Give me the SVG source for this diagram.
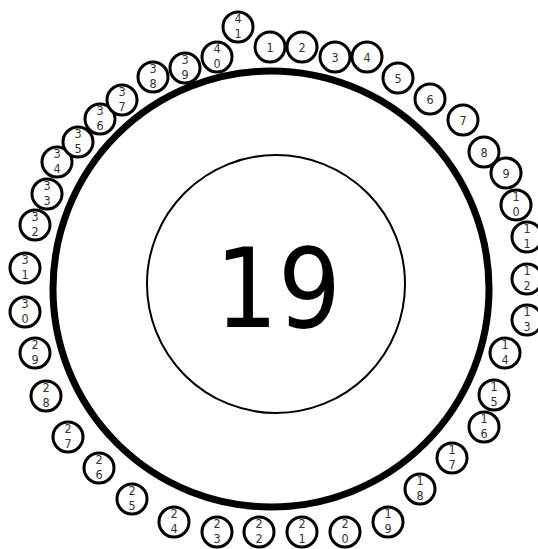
<svg xmlns="http://www.w3.org/2000/svg" width="538" height="549" viewBox="0 0 538 549">
<style>
.bg{fill:#fff}
.ring{fill:none;stroke:#000;stroke-width:7}
.inner{fill:#fff;stroke:#000;stroke-width:2}
.big{font-family:"DejaVu Sans Condensed","DejaVu Sans",sans-serif;font-size:110px;fill:#000;text-anchor:middle}
.n circle{fill:#fff;stroke:#000;stroke-width:3}
.n text{font-family:"DejaVu Sans Condensed","DejaVu Sans",sans-serif;font-size:12.5px;fill:#333;text-anchor:middle}
</style>
<rect class="bg" width="538" height="549"/>
<g id="outer-ring"><circle class="ring" cx="271" cy="289" r="218"/></g>
<g id="center"><circle class="inner" cx="276" cy="284" r="129"/><text class="big" x="278" y="327">19</text></g>
<g id="n1" class="n"><circle cx="270" cy="47" r="15"/><text x="270" y="51.5">1</text></g>
<g id="n2" class="n"><circle cx="302" cy="47" r="15"/><text x="302" y="51.5">2</text></g>
<g id="n3" class="n"><circle cx="335" cy="57" r="15"/><text x="335" y="61.5">3</text></g>
<g id="n4" class="n"><circle cx="367" cy="57" r="15"/><text x="367" y="61.5">4</text></g>
<g id="n5" class="n"><circle cx="398" cy="78" r="15"/><text x="398" y="82.5">5</text></g>
<g id="n6" class="n"><circle cx="430" cy="99" r="15"/><text x="430" y="103.5">6</text></g>
<g id="n7" class="n"><circle cx="463" cy="120" r="15"/><text x="463" y="124.5">7</text></g>
<g id="n8" class="n"><circle cx="484" cy="152" r="15"/><text x="484" y="156.5">8</text></g>
<g id="n9" class="n"><circle cx="506" cy="173" r="15"/><text x="506" y="177.5">9</text></g>
<g id="n10" class="n"><circle cx="516" cy="205" r="15"/><text x="516" y="201">1</text><text x="516" y="216">0</text></g>
<g id="n11" class="n"><circle cx="527" cy="237" r="15"/><text x="527" y="233">1</text><text x="527" y="248">1</text></g>
<g id="n12" class="n"><circle cx="527" cy="279" r="15"/><text x="527" y="275">1</text><text x="527" y="290">2</text></g>
<g id="n13" class="n"><circle cx="527" cy="320" r="15"/><text x="527" y="316">1</text><text x="527" y="331">3</text></g>
<g id="n14" class="n"><circle cx="505" cy="353" r="15"/><text x="505" y="349">1</text><text x="505" y="364">4</text></g>
<g id="n15" class="n"><circle cx="494" cy="395" r="15"/><text x="494" y="391">1</text><text x="494" y="406">5</text></g>
<g id="n16" class="n"><circle cx="484" cy="427" r="15"/><text x="484" y="423">1</text><text x="484" y="438">6</text></g>
<g id="n17" class="n"><circle cx="452" cy="458" r="15"/><text x="452" y="454">1</text><text x="452" y="469">7</text></g>
<g id="n18" class="n"><circle cx="420" cy="489" r="15"/><text x="420" y="485">1</text><text x="420" y="500">8</text></g>
<g id="n19" class="n"><circle cx="388" cy="522" r="15"/><text x="388" y="518">1</text><text x="388" y="533">9</text></g>
<g id="n20" class="n"><circle cx="345" cy="532" r="15"/><text x="345" y="528">2</text><text x="345" y="543">0</text></g>
<g id="n21" class="n"><circle cx="302" cy="532" r="15"/><text x="302" y="528">2</text><text x="302" y="543">1</text></g>
<g id="n22" class="n"><circle cx="259" cy="532" r="15"/><text x="259" y="528">2</text><text x="259" y="543">2</text></g>
<g id="n23" class="n"><circle cx="217" cy="532" r="15"/><text x="217" y="528">2</text><text x="217" y="543">3</text></g>
<g id="n24" class="n"><circle cx="174" cy="522" r="15"/><text x="174" y="518">2</text><text x="174" y="533">4</text></g>
<g id="n25" class="n"><circle cx="132" cy="499" r="15"/><text x="132" y="495">2</text><text x="132" y="510">5</text></g>
<g id="n26" class="n"><circle cx="99" cy="468" r="15"/><text x="99" y="464">2</text><text x="99" y="479">6</text></g>
<g id="n27" class="n"><circle cx="68" cy="437" r="15"/><text x="68" y="433">2</text><text x="68" y="448">7</text></g>
<g id="n28" class="n"><circle cx="46" cy="396" r="15"/><text x="46" y="392">2</text><text x="46" y="407">8</text></g>
<g id="n29" class="n"><circle cx="35" cy="353" r="15"/><text x="35" y="349">2</text><text x="35" y="364">9</text></g>
<g id="n30" class="n"><circle cx="25" cy="312" r="15"/><text x="25" y="308">3</text><text x="25" y="323">0</text></g>
<g id="n31" class="n"><circle cx="25" cy="268" r="15"/><text x="25" y="264">3</text><text x="25" y="279">1</text></g>
<g id="n32" class="n"><circle cx="35" cy="225" r="15"/><text x="35" y="221">3</text><text x="35" y="236">2</text></g>
<g id="n33" class="n"><circle cx="47" cy="194" r="15"/><text x="47" y="190">3</text><text x="47" y="205">3</text></g>
<g id="n34" class="n"><circle cx="57" cy="162" r="15"/><text x="57" y="158">3</text><text x="57" y="173">4</text></g>
<g id="n35" class="n"><circle cx="78" cy="142" r="15"/><text x="78" y="138">3</text><text x="78" y="153">5</text></g>
<g id="n36" class="n"><circle cx="100" cy="119" r="15"/><text x="100" y="115">3</text><text x="100" y="130">6</text></g>
<g id="n37" class="n"><circle cx="122" cy="100" r="15"/><text x="122" y="96">3</text><text x="122" y="111">7</text></g>
<g id="n38" class="n"><circle cx="153" cy="77" r="15"/><text x="153" y="73">3</text><text x="153" y="88">8</text></g>
<g id="n39" class="n"><circle cx="185" cy="68" r="15"/><text x="185" y="64">3</text><text x="185" y="79">9</text></g>
<g id="n40" class="n"><circle cx="217" cy="57" r="15"/><text x="217" y="53">4</text><text x="217" y="68">0</text></g>
<g id="n41" class="n"><circle cx="238" cy="27" r="15"/><text x="238" y="23">4</text><text x="238" y="38">1</text></g>
</svg>
